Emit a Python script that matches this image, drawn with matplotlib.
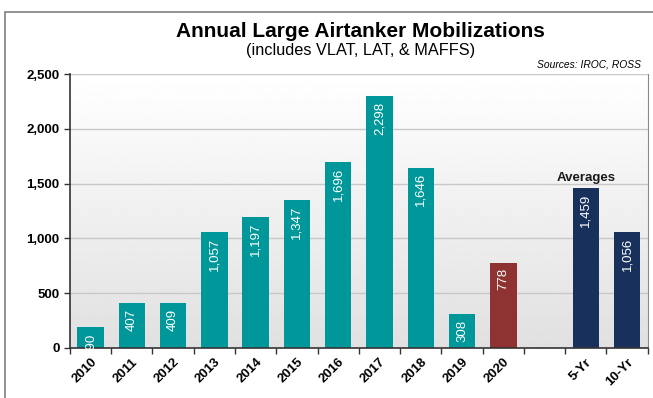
import matplotlib
matplotlib.use("Agg")
import matplotlib.pyplot as plt
import numpy as np
from matplotlib.patches import Rectangle
from matplotlib.ticker import FuncFormatter

plt.rcParams['font.family'] = ['Liberation Sans', 'DejaVu Sans']
narrow = ['Liberation Sans Narrow', 'Liberation Sans', 'DejaVu Sans']

# yearly large airtanker mobilizations plus the 5 and 10 year averages
years = ["2010", "2011", "2012", "2013", "2014", "2015", "2016",
         "2017", "2018", "2019", "2020"]
year_values = [190, 407, 409, 1057, 1197, 1347, 1696, 2298, 1646, 308, 778]
avg_labels = ["5-Yr", "10-Yr"]
avg_values = [1459, 1056]

teal = "#00979a"
red = "#8e3232"
navy = "#17305c"

labels = years + [""] + avg_labels
values = year_values + [np.nan] + avg_values
colors = [teal] * 10 + [red] + ["none"] + [navy] * 2
x = np.arange(len(labels))

fig = plt.figure(figsize=(6.53, 3.98), dpi=100)
ax = fig.add_axes([0.107, 0.126, 0.885, 0.688])

# frame around the whole chart
fig.patches.append(Rectangle((5 / 653, -0.1), 1.1, 1 - 12 / 398 + 0.1,
                             transform=fig.transFigure, fill=False,
                             edgecolor="#7f7f7f", linewidth=1.2))

# light grey gradient behind the bars
grad = np.linspace(1.0, 0.88, 256).reshape(-1, 1)
ax.imshow(grad, cmap="gray", vmin=0, vmax=1, aspect="auto",
          extent=[-0.5, len(labels) - 0.5, 0, 2500], origin="upper", zorder=0)

for yv in [500, 1000, 1500, 2000, 2500]:
    ax.axhline(yv, color="#c8c8c8", linewidth=1.0, zorder=1)

bars = ax.bar(x, np.nan_to_num(values), width=0.64, color=colors,
              edgecolor="none", zorder=2)

for xi, v in zip(x, values):
    if np.isnan(v):
        continue
    ax.text(xi, v - 50, "{:,}".format(int(v)), rotation=90, ha="center",
            va="top", color="white", fontsize=9.5, zorder=3)

ax.text(x[12], avg_values[0] + 40, "Averages", ha="center", va="bottom",
        fontsize=9.5, fontweight="bold", color="#1a1a1a", family=narrow)

ax.set_xlim(-0.5, len(labels) - 0.5)
ax.set_ylim(0, 2500)
ax.set_yticks([0, 500, 1000, 1500, 2000, 2500])
ax.yaxis.set_major_formatter(FuncFormatter(lambda v, p: "{:,}".format(int(v))))
ax.set_xticks(x)
ax.set_xticklabels(labels, rotation=45, ha="right", rotation_mode="anchor",
                   fontsize=9.5, fontweight="bold", family=narrow)
ax.set_xticks(np.arange(-0.5, len(labels), 1), minor=True)
ax.tick_params(axis="x", which="major", length=0, pad=6)
ax.tick_params(axis="x", which="minor", length=4, width=1, color="#333333")
ax.tick_params(axis="y", length=4, width=1, color="#333333", labelsize=9.5)
for t in ax.get_yticklabels():
    t.set_fontweight("bold")
    t.set_family(narrow)

for s in ["left", "bottom"]:
    ax.spines[s].set_color("#333333")
    ax.spines[s].set_linewidth(1.2)
ax.spines["top"].set_visible(False)
ax.spines["right"].set_color("#8a8a8a")

fig.text(0.552, 0.92, "Annual Large Airtanker Mobilizations", ha="center",
         va="center", fontsize=15, fontweight="bold")
fig.text(0.552, 0.872, "(includes VLAT, LAT, & MAFFS)", ha="center",
         va="center", fontsize=11.7)
fig.text(0.982, 0.839, "Sources: IROC, ROSS", ha="right", va="center",
         fontsize=7.4, style="italic", family=narrow)

fig.savefig("out.png", dpi=100)
